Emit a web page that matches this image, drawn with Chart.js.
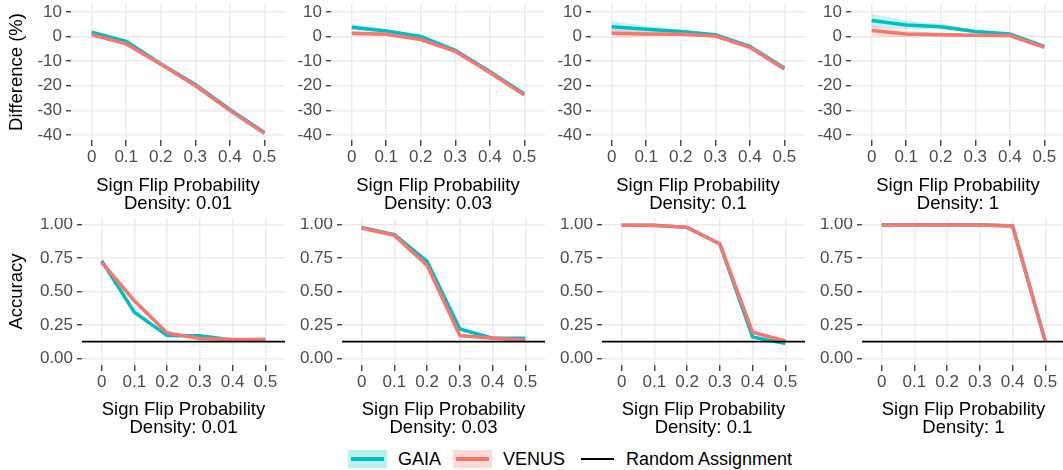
<!DOCTYPE html>
<html>
<head>
<meta charset="utf-8">
<script src="https://cdn.jsdelivr.net/npm/chart.js@4.4.0/dist/chart.umd.min.js"></script>
<style>
  body { margin: 0; width: 1063px; height: 470px; overflow: hidden; background: #fff; position: relative;
         font-family: "Liberation Sans", Arial, sans-serif; }
  canvas { position: absolute; }
  #legend { position: absolute; left: 348px; top: 450px; height: 18px; display: flex; align-items: center;
            font-size: 18px; color: #000; white-space: nowrap; }
  .key { width: 39px; height: 18px; position: relative; margin-right: 11px; }
  .key i { position: absolute; left: 3px; right: 3px; top: 50%; display: block; }
  .lbl { margin-right: 12px; }
</style>
</head>
<body>
<div id="legend">
  <div class="key" style="background:rgba(0,191,196,0.27)"><i style="height:4px;margin-top:-2px;background:#00BFC4"></i></div>
  <span class="lbl">GAIA</span>
  <div class="key" style="background:rgba(248,118,109,0.27)"><i style="height:4px;margin-top:-2px;background:#F8766D"></i></div>
  <span class="lbl" style="margin-right:13px">VENUS</span>
  <div class="key" style="margin-right:9px"><i style="height:1.6px;margin-top:-1px;background:#000"></i></div>
  <span>Random Assignment</span>
</div>
<script>
// x axis: sign flip probability
const flipProbs = [0, 0.1, 0.2, 0.3, 0.4, 0.5];
const flipLabels = ['0', '0.1', '0.2', '0.3', '0.4', '0.5'];
const densities = ['0.01', '0.03', '0.1', '1'];

const diffTicks = [-40, -30, -20, -10, 0, 10];
const diffTickLabels = ['-40', '-30', '-20', '-10', '0', '10'];
const accTicks = [0, 0.25, 0.5, 0.75, 1];
const accTickLabels = ['0.00', '0.25', '0.50', '0.75', '1.00'];
const randomAssignment = 0.125;

// Difference (%) - GAIA
const gaiaDiffD001 = [1.8, -2.0, -11.0, -19.5, -29.6, -38.9];
const gaiaDiffD003 = [3.8, 2.2, 0.0, -5.6, -14.2, -23.3];
const gaiaDiffD01  = [4.0, 3.0, 2.0, 0.7, -4.0, -12.8];
const gaiaDiffD1   = [6.5, 4.7, 4.0, 2.0, 1.0, -4.0];
const gaiaDiffLoD001 = [1.2, -2.5, -11.4, -19.9, -30.0, -39.4];
const gaiaDiffHiD001 = [2.4, -1.5, -10.6, -19.1, -29.2, -38.4];
const gaiaDiffLoD003 = [2.6, 1.4, -0.5, -6.0, -14.6, -23.7];
const gaiaDiffHiD003 = [5.0, 3.0, 0.5, -5.2, -13.8, -22.9];
const gaiaDiffLoD01  = [1.8, 1.6, 1.2, 0.3, -4.4, -13.2];
const gaiaDiffHiD01  = [6.2, 4.4, 2.8, 1.1, -3.6, -12.4];
const gaiaDiffLoD1   = [3.9, 2.9, 2.8, 1.4, 0.7, -4.3];
const gaiaDiffHiD1   = [9.1, 6.5, 5.2, 2.6, 1.3, -3.7];

// Difference (%) - VENUS
const venusDiffD001 = [0.7, -3.0, -11.3, -19.9, -30.0, -39.3];
const venusDiffD003 = [1.3, 0.9, -1.2, -6.0, -14.6, -23.8];
const venusDiffD01  = [1.3, 1.0, 0.9, 0.2, -4.4, -13.2];
const venusDiffD1   = [2.4, 1.0, 0.7, 0.5, 0.4, -4.4];
const venusDiffLoD001 = [0.2, -3.5, -11.7, -20.3, -30.4, -39.8];
const venusDiffHiD001 = [1.2, -2.5, -10.9, -19.5, -29.6, -38.9];
const venusDiffLoD003 = [0.3, 0.2, -1.7, -6.4, -15.0, -24.2];
const venusDiffHiD003 = [2.3, 1.6, -0.7, -5.6, -14.2, -23.4];
const venusDiffLoD01  = [-0.6, 0.0, 0.3, -0.2, -4.8, -13.6];
const venusDiffHiD01  = [3.2, 2.0, 1.5, 0.6, -4.0, -12.8];
const venusDiffLoD1   = [0.2, -0.3, -0.1, 0.1, 0.1, -4.7];
const venusDiffHiD1   = [4.6, 2.3, 1.5, 0.9, 0.7, -4.1];

// Accuracy
const gaiaAccD001 = [0.73, 0.345, 0.17, 0.168, 0.138, 0.14];
const gaiaAccD003 = [0.98, 0.925, 0.725, 0.22, 0.15, 0.15];
const gaiaAccD01  = [0.995, 0.995, 0.98, 0.855, 0.16, 0.11];
const gaiaAccD1   = [1.0, 1.0, 1.0, 1.0, 0.99, 0.125];
const venusAccD001 = [0.72, 0.43, 0.19, 0.148, 0.14, 0.14];
const venusAccD003 = [0.975, 0.92, 0.695, 0.17, 0.15, 0.135];
const venusAccD01  = [0.995, 0.993, 0.98, 0.855, 0.195, 0.13];
const venusAccD1   = [0.998, 0.998, 0.998, 0.998, 0.99, 0.125];

const gaiaDiff = [gaiaDiffD001, gaiaDiffD003, gaiaDiffD01, gaiaDiffD1];
const gaiaDiffLo = [gaiaDiffLoD001, gaiaDiffLoD003, gaiaDiffLoD01, gaiaDiffLoD1];
const gaiaDiffHi = [gaiaDiffHiD001, gaiaDiffHiD003, gaiaDiffHiD01, gaiaDiffHiD1];
const venusDiff = [venusDiffD001, venusDiffD003, venusDiffD01, venusDiffD1];
const venusDiffLo = [venusDiffLoD001, venusDiffLoD003, venusDiffLoD01, venusDiffLoD1];
const venusDiffHi = [venusDiffHiD001, venusDiffHiD003, venusDiffHiD01, venusDiffHiD1];
const gaiaAcc = [gaiaAccD001, gaiaAccD003, gaiaAccD01, gaiaAccD1];
const venusAcc = [venusAccD001, venusAccD003, venusAccD01, venusAccD1];

const GAIA = '#00BFC4', VENUS = '#F8766D';
const X_MIN = -0.06, X_MAX = 0.56;   // discrete-style padding like ggplot
const FONT = '"Liberation Sans", Arial, sans-serif';

function pts(arr) {
  return flipProbs.map((x, i) => ({ x: x, y: arr[i] }));
}

function makePanel(p) {
  const cv = document.createElement('canvas');
  cv.width = p.w; cv.height = p.h;
  cv.style.left = p.left + 'px'; cv.style.top = p.top + 'px';
  document.body.appendChild(cv);

  new Chart(cv.getContext('2d'), {
    type: 'line',
    data: { datasets: p.datasets },
    options: {
      responsive: false,
      animation: false,
      devicePixelRatio: 1,
      layout: { padding: 0 },
      events: [],
      plugins: { legend: { display: false }, tooltip: { enabled: false }, filler: { drawTime: 'beforeDatasetsDraw' } },
      elements: { point: { radius: 0 }, line: { tension: 0 } },
      scales: {
        x: {
          type: 'linear', min: X_MIN, max: X_MAX,
          afterBuildTicks: s => { s.ticks = flipProbs.map(v => ({ value: v })); },
          afterFit: s => { s.height = p.xh; s.paddingLeft = 0; s.paddingRight = 0; },
          ticks: { callback: (v, i) => flipLabels[i], color: '#4D4D4D', font: { family: FONT, size: 17 },
                   padding: 1, maxRotation: 0, autoSkip: false },
          grid: { color: '#EBEBEB', lineWidth: 1.5, tickColor: '#333333', tickLength: 6, tickWidth: 1.3 },
          border: { display: false },
          title: { display: true, text: ['Sign Flip Probability', 'Density: ' + p.density], color: '#000',
                   font: { family: FONT, size: 18.5, lineHeight: '18px' }, padding: { top: 0, bottom: 1 } }
        },
        y: {
          min: p.ymin, max: p.ymax,
          afterBuildTicks: s => { s.ticks = p.yticks.map(v => ({ value: v })); },
          afterFit: s => { s.width = p.yw; s.paddingTop = 0; s.paddingBottom = 0; },
          ticks: { callback: (v, i) => p.ylabels[i], color: '#4D4D4D', font: { family: FONT, size: 17 }, padding: 4 },
          grid: { color: '#EBEBEB', lineWidth: 1.5, tickColor: '#333333', tickLength: 5, tickWidth: 1.3 },
          border: { display: false },
          title: { display: !!p.ytitle, text: p.ytitle || '', color: '#000',
                   font: { family: FONT, size: 18.5, lineHeight: '18px' }, padding: { top: 8, bottom: 0 } }
        }
      }
    }
  });
}

function lineSet(arr, color, order) {
  return { data: pts(arr), borderColor: color, borderWidth: 3.5, fill: false, order: order, pointRadius: 0 };
}

function ribbonSets(lo, hi, rgba, order) {
  return [
    { data: pts(hi), borderWidth: 0, borderColor: 'rgba(0,0,0,0)', backgroundColor: rgba, fill: '+1', order: order, pointRadius: 0 },
    { data: pts(lo), borderWidth: 0, borderColor: 'rgba(0,0,0,0)', fill: false, order: order, pointRadius: 0 }
  ];
}

densities.forEach((d, c) => {
  // top row: difference
  makePanel({
    left: c * 260, top: 4, w: 285, h: 210, yw: 71, xh: 74, density: d,
    ymin: -42, ymax: 13.2, yticks: diffTicks, ylabels: diffTickLabels,
    ytitle: c === 0 ? 'Difference (%)' : null,
    datasets: [
      ...ribbonSets(gaiaDiffLo[c], gaiaDiffHi[c], 'rgba(0,191,196,0.22)', 4),
      ...ribbonSets(venusDiffLo[c], venusDiffHi[c], 'rgba(248,118,109,0.22)', 3),
      lineSet(gaiaDiff[c], GAIA, 1),
      lineSet(venusDiff[c], VENUS, 0)
    ]
  });
  // bottom row: accuracy
  makePanel({
    left: c * 260, top: 218, w: 285, h: 220, yw: 82, xh: 73, density: d,
    ymin: -0.05, ymax: 1.05, yticks: accTicks, ylabels: accTickLabels,
    ytitle: c === 0 ? 'Accuracy' : null,
    datasets: [
      lineSet(gaiaAcc[c], GAIA, 2),
      lineSet(venusAcc[c], VENUS, 1),
      { data: [{ x: X_MIN, y: randomAssignment }, { x: X_MAX, y: randomAssignment }],
        borderColor: '#000', borderWidth: 1.6, fill: false, order: 0, pointRadius: 0 }
    ]
  });
});
</script>
</body>
</html>
